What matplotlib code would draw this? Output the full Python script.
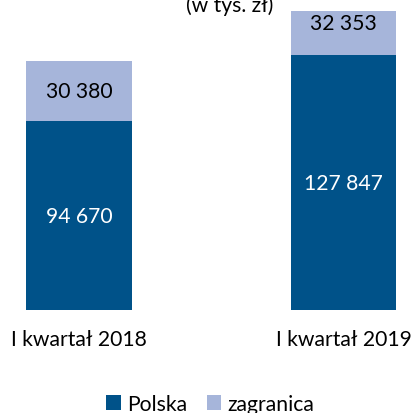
import matplotlib
matplotlib.use("Agg")
import matplotlib.pyplot as plt
import numpy as np

categories = ["I kwartał 2018", "I kwartał 2019"]
polska = [94670, 127847]
zagranica = [30380, 32353]
labels_polska = ["94 670", "127 847"]
labels_zagranica = ["30 380", "32 353"]

c_polska = "#005289"
c_zagr = "#A6B5DA"

plt.rcParams["font.family"] = ["Lato", "DejaVu Sans"]

fig = plt.figure(figsize=(4.12, 4.14), dpi=100)
ax = fig.add_axes([0, 0.2488, 1, 0.7222])

x = np.arange(len(categories))
w = 0.4
ax.bar(x, polska, w, color=c_polska, label="Polska")
ax.bar(x, zagranica, w, bottom=polska, color=c_zagr, label="zagranica")

for i in range(len(x)):
    ax.text(x[i], polska[i] / 2, labels_polska[i], ha="center", va="center",
            color="white", fontsize=15.2)
    ax.text(x[i], polska[i] + zagranica[i] / 2, labels_zagranica[i], ha="center",
            va="center", color="black", fontsize=15.2, clip_on=False)
    ax.text(x[i], -14800, categories[i], ha="center", va="center",
            color="black", fontsize=15.2)

ax.set_xlim(-0.2987, 1.259)
ax.set_ylim(0, 150000)
ax.axis("off")

fig.text(0.558, 1 - 12 / 414, "(w tys. zł)", ha="center", va="baseline", fontsize=15.2)

leg = fig.legend(loc="center", bbox_to_anchor=(0.511, 1 - 405 / 414), ncol=2, frameon=False,
                 fontsize=15.2, handlelength=0.7, handleheight=0.7, handletextpad=0.3,
                 columnspacing=0.9, borderaxespad=0)

fig.savefig("out.png", dpi=100)
